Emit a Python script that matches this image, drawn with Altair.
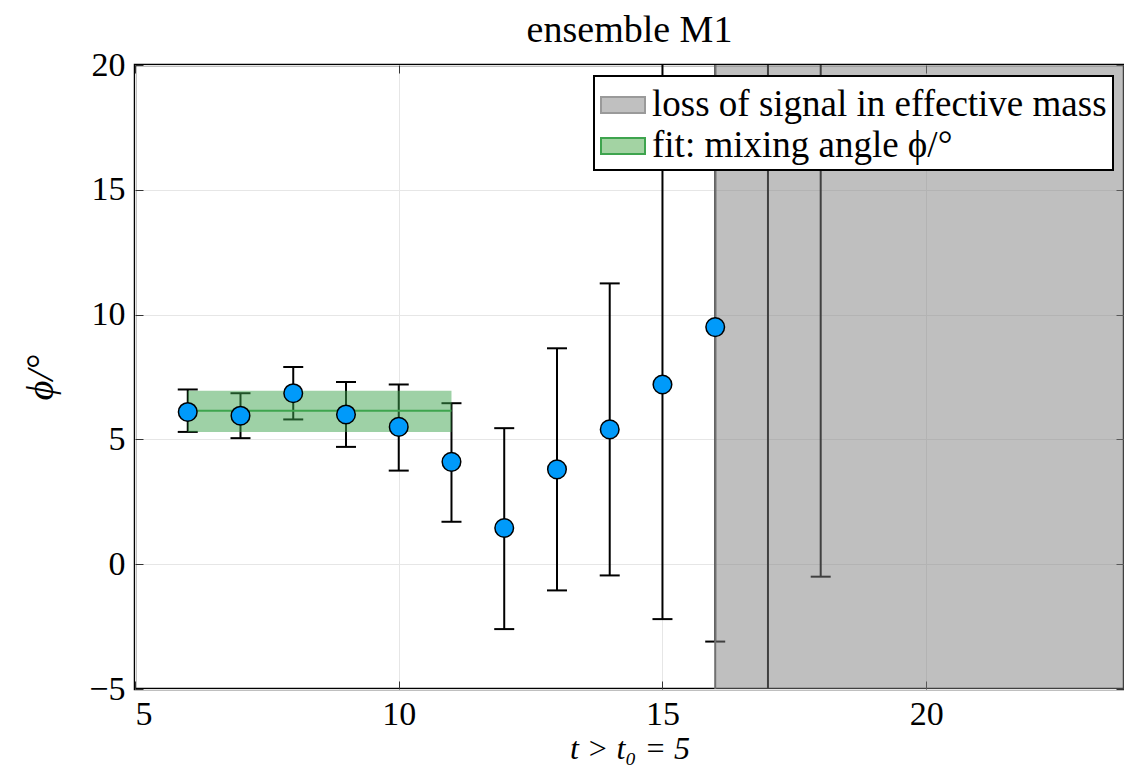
import altair as alt
import pandas as pd

# ---------------- data ----------------
t_vals = [6, 7, 8, 9, 10, 11, 12, 13, 14, 15, 16, 17, 18]
phi_vals = [6.1, 5.95, 6.85, 6.0, 5.5, 4.1, 1.45, 3.8, 5.4, 7.2, 9.5, None, None]
phi_lo = [5.3, 5.05, 5.8, 4.7, 3.75, 1.7, -2.6, -1.05, -0.45, -2.2, -3.1, -12.0, -0.5]
phi_hi = [7.0, 6.85, 7.9, 7.3, 7.2, 6.45, 5.45, 8.65, 11.25, 24.0, 24.0, 30.0, 30.0]

fit_t = [6, 11]
fit_center = 6.15
fit_lo = 5.3
fit_hi = 6.95

loss_t = [16, 30]
loss_phi = [-10, 30]

labels = ["loss of signal in effective mass", "fit: mixing angle ϕ/°"]
x_ticks = [5, 10, 15, 20]
y_ticks = [-5, 0, 5, 10, 15, 20]

X_DOMAIN = [5, 23.75]
Y_DOMAIN = [-5, 20]

# ---------------- layout ----------------
W = 989
H = 624
FONT = "Liberation Serif"
BLUE = "#009AFA"
GREEN = "#3EA44E"
GREY = "#808080"

pts = pd.DataFrame({"t": t_vals, "phi": phi_vals, "lo": phi_lo, "hi": phi_hi})
fit_df = pd.DataFrame({"t": [fit_t[0]], "t2": [fit_t[1]], "lo": [fit_lo], "hi": [fit_hi],
                       "c": [fit_center]})
loss_df = pd.DataFrame({"t": [loss_t[0]], "t2": [loss_t[1]], "lo": [loss_phi[0]],
                        "hi": [loss_phi[1]], "series": [labels[0]]})

xs = alt.Scale(domain=X_DOMAIN, nice=False, zero=False)
ys = alt.Scale(domain=Y_DOMAIN, nice=False, zero=False)

x_main = alt.Axis(values=x_ticks, title="t > t₀ = 5", grid=True, tickSize=0, domain=False,
                  labelFontSize=34, titleFontSize=32, titleFontStyle="italic",
                  titleFontWeight="normal", labelPadding=8, titlePadding=2, format="d")
y_main = alt.Axis(values=y_ticks, title="ϕ/°", grid=True, tickSize=0, domain=False,
                  labelFontSize=34, titleFontSize=38, titleFontStyle="italic",
                  titleFontWeight="normal", labelPadding=10, titlePadding=28, format="d",
                  labelExpr="datum.value < 0 ? '−' + abs(datum.value) : datum.label")


def inward(orient, offset, vals):
    return alt.Axis(orient=orient, offset=offset, values=vals, labels=False, domain=False,
                    grid=False, tickSize=8, tickWidth=1, tickColor="#333333", title=None)


# legend swatches: the look of the translucent patches on white
fill_scale = alt.Scale(domain=labels, range=["#c0c0c0", "#a3d3a3"])
stroke_scale = alt.Scale(domain=labels, range=["#9a9a9a", GREEN])
legend = alt.Legend(title=None, orient="top-right", offset=11, fillColor="white",
                    strokeColor="black", padding=6, labelFontSize=37, labelFont=FONT,
                    symbolType="M-1,-0.36L1,-0.36L1,0.36L-1,0.36Z", symbolSize=1936,
                    symbolStrokeWidth=2, labelLimit=0, rowPadding=0,
                    labelColor="black", labelOffset=6)

bars = alt.Chart(pts).mark_rule(color="black", strokeWidth=2, clip=True).encode(
    x=alt.X("t:Q", scale=xs, axis=x_main),
    y=alt.Y("lo:Q", scale=ys, axis=y_main),
    y2="hi:Q",
)

caps = alt.Chart(pts).transform_fold(["lo", "hi"], as_=["end", "val"]).mark_tick(
    orient="horizontal", color="black", size=20, thickness=2, clip=True, opacity=1
).encode(
    x=alt.X("t:Q", scale=xs, axis=inward("top", -H, x_ticks)),
    y=alt.Y("val:Q", scale=ys, axis=inward("right", -W, y_ticks)),
)

fit_band = alt.Chart(fit_df).mark_rect(fill=GREEN, fillOpacity=0.5, strokeWidth=0,
                                       clip=True).encode(
    x=alt.X("t:Q", scale=xs, axis=inward("bottom", -H, x_ticks)),
    x2="t2:Q",
    y=alt.Y("lo:Q", scale=ys, axis=inward("left", -W, y_ticks)),
    y2="hi:Q",
)

fit_line = alt.Chart(fit_df).mark_rule(color=GREEN, strokeWidth=2, clip=True).encode(
    x=alt.X("t:Q", scale=xs, axis=None),
    x2="t2:Q",
    y=alt.Y("c:Q", scale=ys, axis=None),
)

loss_band = alt.Chart(loss_df).mark_rect(fill=GREY, fillOpacity=0.5, stroke="#707070",
                                         strokeWidth=2, clip=True).encode(
    x=alt.X("t:Q", scale=xs, axis=None),
    x2="t2:Q",
    y=alt.Y("lo:Q", scale=ys, axis=None),
    y2="hi:Q",
)

# invisible layer that only carries the legend
legend_layer = alt.Chart(loss_df).mark_rect(fillOpacity=0, strokeOpacity=0, strokeWidth=2,
                                            clip=True).encode(
    x=alt.X("t:Q", scale=xs, axis=None),
    x2="t2:Q",
    y=alt.Y("lo:Q", scale=ys, axis=None),
    y2="hi:Q",
    fill=alt.Fill("series:N", scale=fill_scale, legend=legend),
    stroke=alt.Stroke("series:N", scale=stroke_scale, legend=legend),
)

points = alt.Chart(pts).mark_point(filled=True, fill=BLUE, stroke="black", strokeWidth=1.5,
                                   size=346, opacity=1, shape="circle", clip=True).encode(
    x=alt.X("t:Q", scale=xs, axis=None),
    y=alt.Y("phi:Q", scale=ys, axis=None),
)

chart = alt.layer(bars, caps, fit_band, fit_line, loss_band, legend_layer, points).resolve_axis(
    x="independent", y="independent"
).properties(
    width=W,
    height=H,
    title=alt.Title("ensemble M1", fontSize=38, font=FONT, fontWeight="normal", offset=-2,
                    color="black", anchor="middle"),
    autosize=alt.AutoSizeParams(type="none"),
    padding={"left": 127, "top": 57, "right": 0, "bottom": 76},
).configure(
    font=FONT,
).configure_axis(
    labelFont=FONT, titleFont=FONT, labelColor="black", titleColor="black",
    gridColor="#e6e6e6", gridWidth=1,
).configure_view(
    stroke="black", strokeWidth=2.5,
).configure_legend(
    strokeWidth=2,
)

chart.save("out.html", embed_options={"renderer": "svg", "actions": False})
